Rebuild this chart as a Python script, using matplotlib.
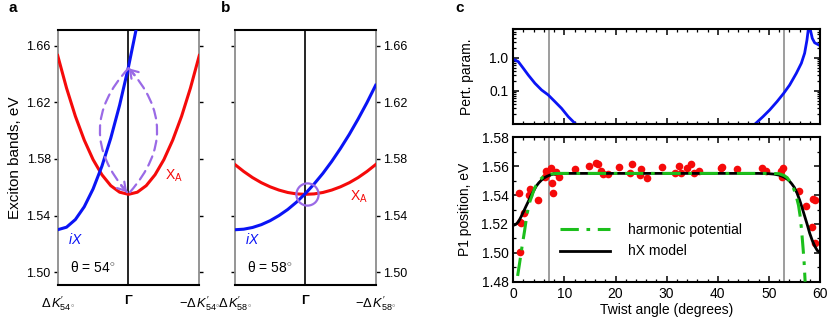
import numpy as np
import matplotlib
matplotlib.use("Agg")
import matplotlib.pyplot as plt
from matplotlib.patches import FancyArrowPatch
from matplotlib.ticker import MultipleLocator, LogLocator, NullFormatter, FixedLocator

plt.rcParams["font.family"] = ["Liberation Sans", "DejaVu Sans"]
plt.rcParams["mathtext.fontset"] = "custom"
plt.rcParams["mathtext.rm"] = "Liberation Sans"
plt.rcParams["mathtext.it"] = "Liberation Sans:italic"
plt.rcParams["mathtext.bf"] = "Liberation Sans:bold"

# ---- data: panels a/b (k from -dK to +dK, Gamma at 0) ----
k = [-1, -0.875, -0.75, -0.625, -0.5, -0.375, -0.25, -0.125, 0,
     0.125, 0.25, 0.375, 0.5, 0.625, 0.75, 0.875, 1]

xa_54 = [1.653, 1.630, 1.6101, 1.5933, 1.5795, 1.5688, 1.5611, 1.5565, 1.555,
         1.5565, 1.5611, 1.5688, 1.5795, 1.5933, 1.6101, 1.630, 1.653]
ix_54 = [1.530, 1.5318, 1.5372, 1.5462, 1.5588, 1.5749, 1.5947, 1.6180, 1.645,
         1.6755]

xa_58 = [1.576, 1.5711, 1.5668, 1.5632, 1.5603, 1.5580, 1.5563, 1.5553, 1.555,
         1.5553, 1.5563, 1.5580, 1.5603, 1.5632, 1.5668, 1.5711, 1.576]
ix_58 = [1.530, 1.5304, 1.5316, 1.5336, 1.5364, 1.5400, 1.5443, 1.5495, 1.5555,
         1.5623, 1.5698, 1.5782, 1.5874, 1.5973, 1.6081, 1.6196, 1.632]

# ---- data: panel c top (perturbation parameter) ----
pert_left_x = [0, 0.98, 1.96, 2.94, 4.24, 5.54, 6.84, 8.14, 9.45, 10.75, 12.25]
pert_left_y = [0.895, 0.76, 0.48, 0.30, 0.17, 0.107, 0.076, 0.048, 0.030, 0.017, 0.010]
pert_right_x = [47.24, 48.86, 50.17, 51.6, 52.9, 54.07, 55.38, 56.36, 57.0, 57.46,
                57.72, 57.82, 57.95, 58.1, 58.5, 58.96, 59.8, 60]
pert_right_y = [0.010, 0.017, 0.027, 0.048, 0.085, 0.151, 0.34, 0.68, 1.36, 3.4,
                7.1, 20, 20, 7.1, 3.8, 2.8, 2.4, 2.3]

# ---- data: panel c bottom ----
meas_x = [1.04, 1.24, 1.5, 1.37, 2.02, 2.99, 3.32, 4.82, 6.45, 6.12, 6.6, 7.37,
          7.56, 7.75, 8.34, 8.99, 11.98, 14.72, 16.2, 16.5, 17.1, 17.5, 18.6,
          20.6, 23.2, 22.9, 25.0, 24.8, 26.1, 29.1, 31.7, 32.5, 32.8, 33.9,
          34.8, 35.4, 36.3, 40.6, 40.8, 43.7, 48.6, 49.4, 52.3, 52.8, 52.5,
          55.9, 57.2, 58.7, 59.0, 58.4, 59.0]
meas_y = [1.5414, 1.5213, 1.521, 1.5003, 1.5277, 1.5403, 1.5444, 1.5369, 1.5569,
          1.5528, 1.5548, 1.5586, 1.5483, 1.5414, 1.5562, 1.5528, 1.5579, 1.5604,
          1.562, 1.5615, 1.5569, 1.5548, 1.5547, 1.5595, 1.5615, 1.5551, 1.5579,
          1.554, 1.5517, 1.5597, 1.5551, 1.5601, 1.5556, 1.5586, 1.5615, 1.5556,
          1.5569, 1.5586, 1.5597, 1.5579, 1.5586, 1.5569, 1.5569, 1.559, 1.5528,
          1.5425, 1.5323, 1.5373, 1.5366, 1.5182, 1.5065]

hx_x = [0, 0.5, 1, 1.5, 2, 2.5, 3, 3.5, 4, 4.5, 5, 5.5, 6, 6.5, 7, 7.5, 8, 9, 10,
        20, 30, 40, 48, 50, 51, 52, 52.5, 53, 53.5, 54, 54.5, 55, 55.5, 56, 56.5,
        57, 57.5, 58, 58.5, 59, 59.5, 60]
hx_y = [1.519, 1.5197, 1.5215, 1.5248, 1.5285, 1.5323, 1.536, 1.5398, 1.543,
        1.5462, 1.5485, 1.5503, 1.5518, 1.5528, 1.5536, 1.5542, 1.5546, 1.5549,
        1.555, 1.555, 1.555, 1.555, 1.555, 1.5548, 1.5545, 1.5538, 1.5532, 1.5524,
        1.5513, 1.5498, 1.5477, 1.5452, 1.5415, 1.5368, 1.5313, 1.5255, 1.5197,
        1.5135, 1.5085, 1.5045, 1.5015, 1.5003]

harm_x = [0.85, 1.2, 1.7, 2.2, 2.7, 3.2, 3.7, 4.2, 4.7, 5.2, 5.8, 6.5, 7.3, 8.2,
          9.5, 11, 20, 30, 40, 50, 52, 53, 53.6, 54.2, 54.8, 55.3, 55.8, 56.1,
          56.4, 56.7, 56.9, 57.1]
harm_y = [1.484, 1.492, 1.504, 1.515, 1.527, 1.535, 1.540, 1.545, 1.548, 1.5505,
          1.5525, 1.5538, 1.5545, 1.5549, 1.555, 1.555, 1.555, 1.555, 1.555, 1.555,
          1.5548, 1.5535, 1.552, 1.549, 1.545, 1.540, 1.533, 1.526, 1.516, 1.503,
          1.4935, 1.480]

crit_angles = [7, 53]

BLUE = "#0a14f5"
RED = "#f50a0a"
GREEN = "#1cbf1c"
PURPLE = "#9a6ae6"
GRAY = "#8c8c8c"

fig = plt.figure(figsize=(8.3, 3.31), dpi=100)
ax_a = fig.add_axes([0.0695, 0.139, 0.1706, 0.7704])
ax_b = fig.add_axes([0.2831, 0.139, 0.1695, 0.7704])
ax_ct = fig.add_axes([0.6184, 0.6245, 0.3695, 0.287])
ax_cb = fig.add_axes([0.6184, 0.1489, 0.3695, 0.4363])


def band_axes(ax, ang, label_right):
    ax.set_xlim(-1, 1)
    ax.set_ylim(1.491, 1.671)
    ax.axvline(0, color="black", lw=1.2, zorder=1)
    for s in ["left", "right"]:
        ax.spines[s].set_color(GRAY)
        ax.spines[s].set_linewidth(1.3)
    for s in ["top", "bottom"]:
        ax.spines[s].set_linewidth(1.5)
    ax.set_yticks([1.50, 1.54, 1.58, 1.62, 1.66])
    ax.set_yticklabels(["1.50", "1.54", "1.58", "1.62", "1.66"])
    ax.tick_params(axis="y", direction="out", length=3, width=1, left=True,
                   right=True, labelleft=not label_right, labelright=label_right,
                   labelsize=9, pad=2)
    ax.set_xticks([-1, 0, 1])
    labs = ax.set_xticklabels([r"$\Delta\,K^{\prime}_{%d^{\circ}}$" % ang,
                               "Γ",
                               r"$-\Delta\,K^{\prime}_{%d^{\circ}}$" % ang])
    labs[1].set_fontweight("bold")
    labs[1].set_fontsize(10)
    ax.tick_params(axis="x", length=0, labelsize=9.3, pad=7)
    ax.text(-0.5, 1.503, r"θ = %d$^{\circ}$" % ang, fontsize=10, ha="center",
            va="center")


def dashed_arc(ax, start, end, rad):
    # dashed curved path plus a solid arrow head following the arc tangent
    ax.add_patch(FancyArrowPatch(start, end, connectionstyle="arc3,rad=%g" % rad,
                                 arrowstyle="-", color=PURPLE, lw=1.6,
                                 linestyle=(0, (4.5, 2.8)), zorder=4,
                                 shrinkA=0, shrinkB=0))
    fig.canvas.draw()
    p1 = ax.transData.transform(start)
    p2 = ax.transData.transform(end)
    mid = (p1 + p2) / 2
    d = p2 - p1
    ctrl = mid + rad * np.array([d[1], -d[0]])
    t = p2 - ctrl
    t = t / np.hypot(*t)
    tail = ax.transData.inverted().transform(p2 - 9 * t)
    ax.annotate("", xy=end, xytext=tail,
                arrowprops=dict(arrowstyle="->,head_length=0.55,head_width=0.35",
                                color=PURPLE, lw=1.6, shrinkA=0, shrinkB=0),
                zorder=5)


# panel a
band_axes(ax_a, 54, False)
ax_a.plot(k, xa_54, color=RED, lw=2.2, zorder=3)
ax_a.plot(k[:len(ix_54)], ix_54, color=BLUE, lw=2.2, zorder=3)
ax_a.set_ylabel("Exciton bands, eV", fontsize=11, labelpad=3)
ax_a.text(0.52, 1.568, r"X$_{\rm A}$", color=RED, fontsize=10, ha="left", va="center")
ax_a.text(-0.86, 1.523, r"$iX$", color=BLUE, fontsize=10, ha="left", va="center")

# panel b
band_axes(ax_b, 58, True)
ax_b.plot(k, xa_58, color=RED, lw=2.2, zorder=3)
ax_b.plot(k, ix_58, color=BLUE, lw=2.2, zorder=3)
ax_b.plot([0.03], [1.5555], marker="o", ms=16, mfc="none", mec=PURPLE, mew=1.6,
          zorder=4)
ax_b.text(0.63, 1.553, r"X$_{\rm A}$", color=RED, fontsize=10, ha="left", va="center")
ax_b.text(-0.86, 1.523, r"$iX$", color=BLUE, fontsize=10, ha="left", va="center")

# panel c top
ax_ct.set_yscale("log")
ax_ct.plot(pert_left_x, pert_left_y, color=BLUE, lw=2)
ax_ct.plot(pert_right_x, pert_right_y, color=BLUE, lw=2)
for a in crit_angles:
    ax_ct.axvline(a, color=GRAY, lw=1.2, zorder=1)
ax_ct.set_xlim(0, 60)
ax_ct.set_ylim(0.01, 7.1)
ax_ct.yaxis.set_major_locator(FixedLocator([0.1, 1.0]))
ax_ct.set_yticklabels(["0.1", "1.0"])
ax_ct.yaxis.set_minor_locator(LogLocator(base=10, subs=np.arange(2, 10)))
ax_ct.yaxis.set_minor_formatter(NullFormatter())
ax_ct.xaxis.set_major_locator(MultipleLocator(10))
ax_ct.xaxis.set_minor_locator(MultipleLocator(2))
ax_ct.tick_params(labelbottom=False)
ax_ct.set_ylabel("Pert. param.", fontsize=10, labelpad=11)

# panel c bottom
ax_cb.plot(meas_x, meas_y, "o", color=RED, ms=5.5, mec="none", zorder=2)
ax_cb.plot(hx_x, hx_y, color="black", lw=2, zorder=3, label="hX model")
ax_cb.plot(harm_x, harm_y, color=GREEN, lw=2.2, linestyle=(0, (6, 2.5, 1.2, 2.5)),
           zorder=4, label="harmonic potential")
for a in crit_angles:
    ax_cb.axvline(a, color=GRAY, lw=1.2, zorder=1)
ax_cb.set_xlim(0, 60)
ax_cb.set_ylim(1.48, 1.58)
ax_cb.xaxis.set_major_locator(MultipleLocator(10))
ax_cb.xaxis.set_minor_locator(MultipleLocator(2))
ax_cb.yaxis.set_major_locator(MultipleLocator(0.02))
ax_cb.yaxis.set_minor_locator(MultipleLocator(0.01))
ax_cb.yaxis.set_major_formatter(matplotlib.ticker.FormatStrFormatter("%.2f"))
ax_cb.set_xlabel("Twist angle (degrees)", fontsize=10, labelpad=2)
ax_cb.set_ylabel("P1 position, eV", fontsize=10, labelpad=7)
h, l = ax_cb.get_legend_handles_labels()
ax_cb.legend(h[::-1], l[::-1], loc="center left", bbox_to_anchor=(0.13, 0.285),
             frameon=False, fontsize=10, handlelength=3.6, handletextpad=1.3,
             labelspacing=0.55, borderpad=0)

for ax in [ax_ct, ax_cb]:
    for s in ax.spines.values():
        s.set_linewidth(1.5)
    ax.tick_params(which="both", direction="in", top=True, right=True, labelsize=10)
    ax.tick_params(which="major", length=4, width=1.1)
    ax.tick_params(which="minor", length=2.2, width=0.9)

fig.text(0.010, 0.975, "a", fontsize=11, fontweight="bold", va="center")
fig.text(0.266, 0.975, "b", fontsize=11, fontweight="bold", va="center")
fig.text(0.549, 0.975, "c", fontsize=11, fontweight="bold", va="center")

# transition arrows in panel a (need final layout for the head direction)
dashed_arc(ax_a, (0.0, 1.644), (-0.02, 1.5565), 0.45)
dashed_arc(ax_a, (0.02, 1.5565), (0.0, 1.644), 0.45)

fig.savefig("out.png", dpi=100)
